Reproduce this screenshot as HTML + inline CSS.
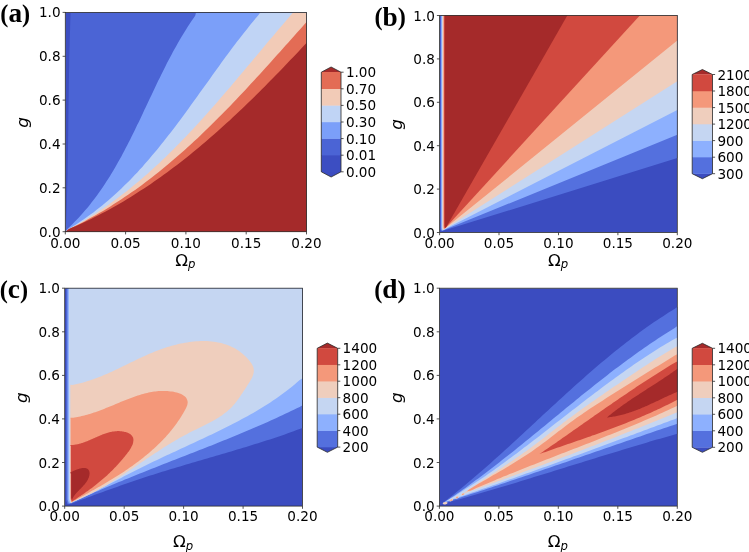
<!DOCTYPE html>
<html lang="en"><head><meta charset="utf-8"><title>Contour panels</title>
<style>
html,body{margin:0;padding:0;background:#fff;}
body{width:749px;height:552px;overflow:hidden;}
svg{display:block;font-family:'DejaVu Sans','Liberation Sans',sans-serif;fill:#000;}
</style></head><body>
<svg width="749" height="552" viewBox="0 0 749 552">
<defs><clipPath id="cpa"><rect x="65.3" y="12.4" width="241.2" height="219.3"/></clipPath><clipPath id="cpb"><rect x="439.6" y="15.5" width="237.7" height="217.0"/></clipPath><clipPath id="cpc"><rect x="64.7" y="288.2" width="237.8" height="217.9"/></clipPath><clipPath id="cpd"><rect x="439.4" y="288.2" width="237.9" height="217.9"/></clipPath></defs>
<rect x="0" y="0" width="749" height="552" fill="#ffffff"/>
<g clip-path="url(#cpa)">
<rect x="65.3" y="12.4" width="241.2" height="219.3" fill="#3c4ec2"/>
<polygon points="65.5,231.7 65.8,228.9 65.9,226.2 66.1,223.4 66.2,220.6 66.3,217.8 66.4,215.1 66.5,212.3 66.6,209.5 66.7,206.7 66.8,204.0 66.9,201.2 66.9,198.4 67.0,195.6 67.1,192.9 67.2,190.1 67.2,187.3 67.3,184.5 67.4,181.8 67.4,179.0 67.5,176.2 67.6,173.4 67.6,170.7 67.7,167.9 67.7,165.1 67.8,162.3 67.8,159.6 67.9,156.8 67.9,154.0 67.9,151.2 68.0,148.4 68.0,145.7 68.1,142.9 68.1,140.1 68.1,137.3 68.2,134.6 68.2,131.8 68.3,129.0 68.3,126.2 68.3,123.5 68.4,120.7 68.4,117.9 68.4,115.1 68.5,112.3 68.5,109.6 68.5,106.8 68.6,104.0 68.6,101.2 68.6,98.5 68.7,95.7 68.7,92.9 68.8,90.1 68.8,87.4 68.8,84.6 68.9,81.8 68.9,79.0 69.0,76.2 69.0,73.5 69.1,70.7 69.1,67.9 69.2,65.1 69.2,62.4 69.3,59.6 69.3,56.8 69.4,54.0 69.5,51.3 69.5,48.5 69.6,45.7 69.7,42.9 69.7,40.2 69.8,37.4 69.9,34.6 70.0,31.8 70.1,29.1 70.1,26.3 70.2,23.5 70.3,20.7 70.4,18.0 70.5,15.2 70.6,12.4 308.5,10.4 308.5,233.7 65.5,233.7" fill="#4b64d5"/>
<polygon points="65.5,231.7 67.3,229.0 69.7,226.7 72.1,224.4 74.4,222.1 76.7,219.8 78.9,217.4 81.1,215.0 83.3,212.6 85.4,210.1 87.5,207.7 89.5,205.2 91.5,202.6 93.5,200.1 95.4,197.5 97.3,194.9 99.2,192.3 101.0,189.7 102.9,187.0 104.7,184.3 106.4,181.6 108.1,178.9 109.9,176.2 111.5,173.5 113.2,170.7 114.8,167.9 116.5,165.1 118.0,162.3 119.6,159.5 121.2,156.7 122.7,153.8 124.2,151.0 125.7,148.1 127.2,145.2 128.7,142.3 130.2,139.4 131.6,136.5 133.1,133.6 134.5,130.7 135.9,127.8 137.3,124.8 138.8,121.9 140.2,119.0 141.6,116.0 143.0,113.1 144.3,110.1 145.7,107.2 147.1,104.2 148.5,101.3 149.9,98.3 151.3,95.4 152.7,92.4 154.1,89.5 155.5,86.5 156.9,83.6 158.3,80.6 159.8,77.7 161.2,74.8 162.6,71.9 164.1,68.9 165.6,66.0 167.0,63.1 168.5,60.2 170.0,57.4 171.6,54.5 173.1,51.6 174.7,48.8 176.3,45.9 177.9,43.1 179.5,40.3 181.1,37.5 182.8,34.7 184.5,32.0 186.2,29.2 187.9,26.5 189.7,23.8 191.5,21.1 193.3,18.4 195.2,15.7 196.0,12.4 308.5,10.4 308.5,233.7 65.5,233.7" fill="#7b9ff9"/>
<polygon points="65.5,231.7 68.2,229.2 71.5,227.3 74.7,225.3 77.9,223.2 81.1,221.1 84.2,219.0 87.3,216.8 90.4,214.6 93.4,212.4 96.3,210.1 99.3,207.8 102.2,205.5 105.1,203.1 107.9,200.7 110.7,198.3 113.5,195.8 116.3,193.3 119.0,190.8 121.7,188.2 124.3,185.6 127.0,183.0 129.6,180.4 132.2,177.7 134.7,175.1 137.3,172.4 139.8,169.6 142.3,166.9 144.7,164.1 147.2,161.3 149.6,158.5 152.0,155.6 154.4,152.8 156.8,149.9 159.2,147.0 161.5,144.1 163.8,141.2 166.1,138.3 168.4,135.3 170.7,132.4 173.0,129.4 175.3,126.4 177.5,123.4 179.8,120.4 182.0,117.4 184.2,114.4 186.4,111.4 188.6,108.4 190.8,105.3 193.0,102.3 195.2,99.2 197.4,96.2 199.6,93.1 201.8,90.1 204.0,87.0 206.2,84.0 208.4,80.9 210.5,77.9 212.7,74.8 214.9,71.8 217.1,68.7 219.3,65.7 221.5,62.6 223.7,59.6 225.9,56.6 228.2,53.6 230.4,50.6 232.6,47.6 234.9,44.6 237.1,41.6 239.4,38.7 241.7,35.7 244.0,32.8 246.3,29.9 248.6,27.0 250.9,24.1 253.3,21.2 255.7,18.3 258.1,15.5 260.3,12.4 308.5,10.4 308.5,233.7 65.5,233.7" fill="#c0d4f5"/>
<polygon points="65.5,231.7 68.6,229.3 72.2,227.3 75.8,225.4 79.4,223.3 82.9,221.3 86.4,219.2 89.8,217.1 93.3,214.9 96.7,212.8 100.0,210.5 103.4,208.3 106.7,206.0 110.0,203.7 113.2,201.3 116.5,199.0 119.7,196.6 122.9,194.1 126.0,191.7 129.2,189.2 132.3,186.6 135.4,184.1 138.5,181.5 141.5,178.9 144.5,176.3 147.6,173.7 150.5,171.0 153.5,168.3 156.5,165.6 159.4,162.9 162.3,160.1 165.2,157.4 168.1,154.6 170.9,151.8 173.8,148.9 176.6,146.1 179.4,143.2 182.2,140.3 185.0,137.4 187.8,134.5 190.6,131.6 193.3,128.7 196.0,125.7 198.8,122.7 201.5,119.7 204.2,116.8 206.9,113.8 209.5,110.7 212.2,107.7 214.9,104.7 217.5,101.7 220.2,98.6 222.8,95.6 225.4,92.5 228.1,89.4 230.7,86.4 233.3,83.3 235.9,80.2 238.5,77.1 241.1,74.0 243.7,70.9 246.3,67.8 248.9,64.7 251.5,61.7 254.1,58.6 256.7,55.5 259.3,52.4 261.9,49.3 264.4,46.2 267.0,43.1 269.6,40.0 272.2,37.0 274.8,33.9 277.4,30.8 280.0,27.8 282.6,24.7 285.2,21.7 287.9,18.6 290.5,15.6 293.0,12.4 308.5,10.4 308.5,233.7 65.5,233.7" fill="#f2cbb7"/>
<polygon points="65.5,231.7 68.8,229.1 72.7,227.2 76.6,225.3 80.4,223.4 84.3,221.4 88.1,219.3 91.8,217.3 95.6,215.2 99.3,213.0 103.0,210.9 106.7,208.7 110.3,206.4 113.9,204.1 117.5,201.8 121.1,199.5 124.6,197.1 128.1,194.7 131.6,192.3 135.1,189.9 138.6,187.4 142.0,184.9 145.4,182.3 148.8,179.8 152.1,177.2 155.5,174.5 158.8,171.9 162.1,169.2 165.4,166.5 168.7,163.8 171.9,161.1 175.1,158.3 178.3,155.5 181.5,152.7 184.7,149.9 187.9,147.0 191.0,144.2 194.1,141.3 197.3,138.4 200.4,135.5 203.4,132.5 206.5,129.6 209.6,126.6 212.6,123.6 215.6,120.6 218.6,117.6 221.7,114.6 224.6,111.5 227.6,108.5 230.6,105.4 233.6,102.3 236.5,99.2 239.5,96.1 242.4,93.0 245.3,89.9 248.2,86.8 251.1,83.6 254.0,80.5 256.9,77.3 259.8,74.2 262.7,71.0 265.6,67.8 268.4,64.7 271.3,61.5 274.1,58.3 277.0,55.1 279.9,51.9 282.7,48.8 285.5,45.6 288.4,42.4 291.2,39.2 294.1,36.0 296.9,32.8 299.7,29.7 302.6,26.5 305.4,23.3 308.2,20.1 311.1,17.0 313.9,13.8 317.0,10.8 308.5,10.8 308.5,233.7 65.5,233.7" fill="#e36c55"/>
<polygon points="65.5,231.7 68.6,229.3 72.4,227.6 76.2,226.0 80.0,224.2 83.7,222.5 87.4,220.7 91.1,218.9 94.8,217.1 98.4,215.2 102.1,213.3 105.7,211.4 109.3,209.5 112.8,207.5 116.4,205.5 119.9,203.4 123.4,201.4 126.9,199.3 130.3,197.2 133.8,195.0 137.2,192.8 140.6,190.6 144.0,188.4 147.4,186.2 150.8,183.9 154.1,181.6 157.4,179.3 160.7,176.9 164.0,174.6 167.3,172.2 170.5,169.8 173.8,167.3 177.0,164.9 180.2,162.4 183.4,159.9 186.6,157.4 189.7,154.9 192.9,152.3 196.0,149.7 199.1,147.2 202.2,144.5 205.3,141.9 208.4,139.3 211.5,136.6 214.5,133.9 217.6,131.3 220.6,128.6 223.6,125.8 226.6,123.1 229.6,120.4 232.6,117.6 235.6,114.8 238.5,112.0 241.5,109.2 244.4,106.4 247.4,103.6 250.3,100.8 253.2,97.9 256.1,95.1 259.0,92.2 261.9,89.3 264.8,86.4 267.6,83.5 270.5,80.6 273.3,77.7 276.2,74.8 279.0,71.9 281.9,69.0 284.7,66.0 287.5,63.1 290.3,60.1 293.1,57.2 296.0,54.2 298.8,51.3 301.5,48.3 304.3,45.3 307.1,42.4 309.9,39.4 312.7,36.4 316.0,34.0 308.5,34.0 308.5,233.7 65.5,233.7" fill="#a52a2a"/>
</g>
<g clip-path="url(#cpb)">
<rect x="439.6" y="15.5" width="237.7" height="217.0" fill="#3b4cc0"/>
<polygon points="440.5,13.5 440.5,228.3 440.7,230.3 441.4,231.3 677.3,158.1 679.3,158.1 679.3,13.5" fill="#5470de"/>
<polygon points="441.2,13.5 441.2,227.8 441.4,229.8 442.1,230.8 677.3,134.8 679.3,134.8 679.3,13.5" fill="#8db0fe"/>
<polygon points="441.9,13.5 441.9,227.2 442.1,229.2 442.8,230.2 677.3,110.0 679.3,110.0 679.3,13.5" fill="#c5d6f2"/>
<polygon points="442.6,13.5 442.6,226.7 442.8,228.7 443.5,229.7 677.3,81.2 679.3,81.2 679.3,13.5" fill="#efcebd"/>
<polygon points="443.3,13.5 443.3,226.1 443.5,228.1 444.2,229.1 677.3,40.6 679.3,40.6 679.3,13.5" fill="#f4987a"/>
<polygon points="444.0,13.5 444.0,225.6 444.2,227.6 444.9,228.6 639.8,15.5 639.8,13.5" fill="#d1493f"/>
<polygon points="444.8,13.5 444.8,225.0 445.0,227.0 445.7,228.0 567.3,15.5 567.3,13.5" fill="#a52a2a"/>
</g>
<g clip-path="url(#cpc)">
<rect x="64.7" y="288.2" width="237.8" height="217.9" fill="#3b4cc0"/>
<polygon points="66.3,286.2 66.3,500.3 67.5,504.3 70.6,503.9 73.6,502.8 76.5,501.7 79.4,500.6 82.3,499.5 85.3,498.4 88.2,497.3 91.1,496.2 94.1,495.1 97.0,494.1 99.9,493.0 102.9,491.9 105.8,490.8 108.8,489.8 111.7,488.7 114.6,487.7 117.6,486.7 120.6,485.6 123.5,484.6 126.5,483.6 129.4,482.6 132.4,481.5 135.3,480.5 138.3,479.5 141.3,478.6 144.2,477.6 147.2,476.6 150.2,475.6 153.2,474.7 156.1,473.7 159.1,472.8 162.1,471.8 165.1,470.9 168.1,470.0 171.1,469.1 174.1,468.2 177.1,467.3 180.1,466.4 183.1,465.5 186.1,464.6 189.1,463.7 192.1,462.8 195.1,461.9 198.1,461.1 201.1,460.2 204.1,459.3 207.1,458.4 210.1,457.6 213.1,456.7 216.1,455.8 219.1,454.9 222.1,454.0 225.1,453.2 228.1,452.3 231.1,451.4 234.1,450.5 237.1,449.6 240.1,448.7 243.1,447.8 246.1,446.9 249.1,446.0 252.1,445.1 255.1,444.1 258.1,443.2 261.0,442.3 264.0,441.3 267.0,440.3 270.0,439.4 273.0,438.4 275.9,437.4 278.9,436.4 281.9,435.4 284.8,434.4 287.8,433.3 290.7,432.3 293.7,431.2 296.6,430.1 299.6,429.0 302.5,427.9 304.5,427.9 304.5,286.2" fill="#5470de"/>
<polygon points="67.6,286.2 67.6,499.6 68.8,503.6 71.9,502.7 74.8,501.4 77.7,500.0 80.7,498.7 83.6,497.4 86.5,496.0 89.4,494.7 92.4,493.4 95.3,492.1 98.3,490.9 101.2,489.6 104.2,488.3 107.1,487.0 110.1,485.8 113.0,484.6 116.0,483.3 118.9,482.1 121.9,480.9 124.9,479.6 127.9,478.4 130.8,477.2 133.8,476.0 136.8,474.8 139.8,473.6 142.7,472.4 145.7,471.2 148.7,470.0 151.7,468.8 154.7,467.7 157.7,466.5 160.7,465.3 163.7,464.1 166.6,463.0 169.6,461.8 172.6,460.6 175.6,459.5 178.6,458.3 181.6,457.1 184.6,455.9 187.6,454.8 190.6,453.6 193.6,452.4 196.6,451.3 199.5,450.1 202.5,448.9 205.5,447.7 208.5,446.5 211.5,445.4 214.5,444.2 217.4,443.0 220.4,441.8 223.4,440.6 226.4,439.4 229.3,438.2 232.3,436.9 235.3,435.7 238.3,434.5 241.2,433.3 244.2,432.0 247.1,430.8 250.1,429.5 253.0,428.3 256.0,427.0 258.9,425.7 261.9,424.4 264.8,423.2 267.7,421.9 270.7,420.5 273.6,419.2 276.5,417.9 279.4,416.6 282.3,415.2 285.2,413.8 288.1,412.5 291.0,411.1 293.9,409.7 296.8,408.3 299.7,406.9 302.5,405.3 304.5,405.3 304.5,286.2" fill="#8db0fe"/>
<polygon points="68.9,286.2 68.9,498.9 70.1,502.9 73.2,501.7 76.3,500.4 79.4,499.0 82.4,497.6 85.5,496.2 88.5,494.8 91.5,493.3 94.5,491.8 97.5,490.3 100.5,488.8 103.4,487.3 106.4,485.7 109.4,484.1 112.3,482.6 115.3,481.0 118.2,479.5 121.2,477.9 124.1,476.3 127.1,474.8 130.1,473.2 133.1,471.7 136.0,470.2 139.0,468.7 142.0,467.2 145.0,465.7 148.0,464.3 151.0,462.8 154.1,461.3 157.1,459.9 160.1,458.5 163.1,457.0 166.2,455.6 169.2,454.2 172.2,452.8 175.3,451.4 178.3,450.0 181.3,448.6 184.4,447.2 187.4,445.7 190.5,444.3 193.5,442.9 196.5,441.5 199.6,440.1 202.6,438.7 205.6,437.2 208.6,435.8 211.7,434.4 214.7,432.9 217.7,431.5 220.7,430.0 223.7,428.5 226.7,427.0 229.7,425.5 232.6,424.0 235.6,422.5 238.6,420.9 241.5,419.3 244.4,417.8 247.4,416.2 250.3,414.5 253.2,412.9 256.1,411.2 258.9,409.5 261.8,407.8 264.6,406.0 267.5,404.2 270.3,402.4 273.0,400.6 275.8,398.7 278.6,396.8 281.3,394.8 284.0,392.8 286.7,390.8 289.3,388.8 291.9,386.7 294.6,384.5 297.1,382.3 299.7,380.1 302.5,378.3 304.5,378.3 304.5,286.2" fill="#c5d6f2"/>
<polygon points="70.3,385.8 70.3,500.2 71.2,503.2 72.8,501.8 74.9,501.0 76.9,500.2 78.9,499.3 80.9,498.4 82.9,497.5 84.9,496.6 86.9,495.6 88.9,494.7 90.8,493.7 92.8,492.7 94.7,491.7 96.6,490.7 98.5,489.6 100.4,488.6 102.3,487.5 104.2,486.4 106.1,485.3 107.9,484.2 109.8,483.1 111.7,481.9 113.5,480.8 115.3,479.6 117.2,478.5 119.0,477.3 120.9,476.1 122.7,474.9 124.5,473.7 126.3,472.5 128.1,471.3 129.9,470.1 131.8,468.9 133.6,467.7 135.4,466.5 137.2,465.2 139.0,464.0 140.8,462.8 142.6,461.6 144.4,460.4 146.2,459.1 148.0,457.9 149.8,456.7 151.7,455.5 153.5,454.3 155.3,453.1 157.1,451.9 159.0,450.7 160.8,449.5 162.6,448.3 164.5,447.1 166.3,446.0 168.2,444.8 170.0,443.7 171.9,442.5 173.8,441.4 175.7,440.3 177.6,439.2 179.5,438.1 181.4,437.0 183.3,435.9 185.2,434.9 187.2,433.9 189.1,432.8 191.1,431.8 193.1,430.8 195.1,429.9 197.0,428.9 199.0,427.9 201.0,427.0 203.0,426.0 205.0,425.0 206.9,424.0 208.9,423.0 210.8,422.0 212.7,421.0 214.6,419.9 216.5,418.8 218.3,417.7 220.1,416.5 221.9,415.4 223.6,414.1 225.3,412.8 227.0,411.5 228.6,410.1 230.1,408.7 231.7,407.2 233.1,405.6 234.5,404.0 235.9,402.3 237.2,400.6 238.5,398.8 239.8,397.0 241.0,395.1 242.3,393.2 243.5,391.3 244.8,389.4 246.1,387.4 247.3,385.4 248.6,383.4 249.9,381.5 251.0,379.5 252.1,377.5 252.9,375.5 253.5,373.5 253.8,371.5 253.8,369.5 253.4,367.5 252.6,365.6 251.5,363.6 250.2,361.8 248.8,360.0 247.3,358.3 245.8,356.7 244.2,355.2 242.5,353.7 240.9,352.4 239.1,351.1 237.4,349.9 235.6,348.8 233.7,347.8 231.9,346.9 230.0,346.0 228.0,345.2 226.0,344.5 224.0,343.9 222.0,343.3 220.0,342.8 217.9,342.4 215.8,342.0 213.7,341.7 211.5,341.4 209.4,341.3 207.2,341.1 205.0,341.1 202.8,341.1 200.6,341.1 198.4,341.2 196.2,341.3 193.9,341.5 191.7,341.8 189.5,342.1 187.2,342.4 185.0,342.8 182.8,343.2 180.6,343.6 178.3,344.1 176.1,344.7 173.9,345.2 171.7,345.8 169.6,346.5 167.4,347.1 165.3,347.8 163.1,348.5 161.0,349.2 159.0,350.0 156.9,350.8 154.8,351.6 152.8,352.4 150.8,353.3 148.8,354.1 146.8,355.0 144.8,355.9 142.8,356.8 140.8,357.7 138.9,358.6 136.9,359.5 135.0,360.5 133.1,361.4 131.1,362.3 129.2,363.3 127.3,364.2 125.3,365.2 123.4,366.1 121.5,367.1 119.6,368.0 117.6,368.9 115.7,369.8 113.7,370.8 111.8,371.7 109.8,372.5 107.9,373.4 105.9,374.3 103.9,375.1 102.0,375.9 100.0,376.8 97.9,377.5 95.9,378.3 93.9,379.1 91.8,379.8 89.7,380.5 87.7,381.1 85.5,381.8 83.4,382.4 81.3,382.9 79.1,383.5 76.9,384.0 74.7,384.4 72.4,384.9 70.4,384.8" fill="#efcebd"/>
<polygon points="70.6,418.8 70.6,499.3 71.5,502.3 72.8,501.5 74.0,500.8 75.2,500.2 76.4,499.5 77.7,498.8 78.9,498.2 80.1,497.5 81.3,496.8 82.6,496.1 83.8,495.5 85.0,494.8 86.3,494.1 87.5,493.4 88.7,492.7 90.0,492.0 91.2,491.3 92.4,490.6 93.7,489.9 94.9,489.2 96.1,488.5 97.4,487.8 98.6,487.1 99.9,486.4 101.1,485.7 102.3,485.0 103.6,484.3 104.8,483.5 106.0,482.8 107.3,482.1 108.5,481.3 109.7,480.6 110.9,479.8 112.2,479.1 113.4,478.3 114.6,477.6 115.8,476.8 117.1,476.1 118.3,475.3 119.5,474.5 120.7,473.7 121.9,472.9 123.1,472.2 124.3,471.4 125.5,470.6 126.7,469.8 127.9,468.9 129.1,468.1 130.2,467.3 131.4,466.5 132.6,465.7 133.7,464.8 134.9,464.0 136.1,463.1 137.2,462.3 138.4,461.4 139.5,460.5 140.6,459.7 141.8,458.8 142.9,457.9 144.0,457.0 145.1,456.1 146.2,455.2 147.3,454.3 148.4,453.4 149.5,452.5 150.6,451.5 151.7,450.6 152.7,449.6 153.8,448.7 154.8,447.7 155.9,446.8 156.9,445.8 157.9,444.8 159.0,443.8 160.0,442.8 161.0,441.8 162.0,440.8 163.0,439.8 163.9,438.7 164.9,437.7 165.9,436.7 166.8,435.6 167.8,434.5 168.7,433.5 169.6,432.4 170.5,431.3 171.4,430.2 172.3,429.1 173.2,428.0 174.1,426.8 174.9,425.7 175.8,424.6 176.6,423.4 177.4,422.2 178.2,421.1 179.0,419.9 179.8,418.7 180.6,417.5 181.4,416.3 182.1,415.1 182.9,413.8 183.6,412.6 184.3,411.3 185.0,410.1 185.7,408.8 186.3,407.5 186.8,406.3 187.3,405.0 187.5,403.8 187.7,402.6 187.6,401.4 187.3,400.3 186.9,399.2 186.3,398.1 185.5,397.1 184.6,396.2 183.5,395.4 182.4,394.7 181.1,394.0 179.7,393.4 178.3,392.9 176.7,392.5 175.2,392.2 173.6,391.8 172.1,391.6 170.5,391.4 168.9,391.2 167.4,391.1 165.9,391.0 164.4,391.0 162.9,390.9 161.4,391.0 159.9,391.0 158.5,391.1 157.0,391.2 155.6,391.4 154.2,391.6 152.8,391.8 151.4,392.0 150.0,392.3 148.6,392.6 147.2,392.9 145.8,393.2 144.5,393.6 143.1,393.9 141.7,394.3 140.4,394.7 139.0,395.2 137.7,395.6 136.4,396.0 135.0,396.5 133.7,397.0 132.4,397.5 131.0,397.9 129.7,398.4 128.4,399.0 127.0,399.5 125.7,400.0 124.4,400.5 123.1,401.1 121.8,401.6 120.4,402.1 119.1,402.7 117.8,403.2 116.5,403.8 115.2,404.3 113.9,404.9 112.5,405.4 111.2,406.0 109.9,406.5 108.6,407.1 107.3,407.6 105.9,408.1 104.6,408.7 103.3,409.2 102.0,409.7 100.6,410.2 99.3,410.7 98.0,411.2 96.6,411.7 95.3,412.2 93.9,412.6 92.6,413.1 91.2,413.5 89.9,413.9 88.5,414.3 87.2,414.7 85.8,415.1 84.4,415.5 83.1,415.8 81.7,416.1 80.3,416.4 78.9,416.7 77.5,417.0 76.1,417.2 74.7,417.5 73.3,417.7 71.9,417.8 70.4,417.8" fill="#f4987a"/>
<polygon points="70.9,446.0 70.9,498.4 71.8,501.4 72.5,501.2 73.2,500.7 73.9,500.3 74.6,499.8 75.3,499.4 76.0,498.9 76.7,498.5 77.4,498.0 78.0,497.6 78.7,497.1 79.4,496.6 80.1,496.2 80.8,495.7 81.4,495.3 82.1,494.8 82.8,494.4 83.4,493.9 84.1,493.5 84.8,493.0 85.4,492.6 86.1,492.1 86.7,491.6 87.4,491.2 88.0,490.7 88.7,490.2 89.3,489.8 89.9,489.3 90.6,488.8 91.2,488.4 91.8,487.9 92.5,487.4 93.1,486.9 93.7,486.5 94.3,486.0 95.0,485.5 95.6,485.0 96.2,484.5 96.8,484.1 97.4,483.6 98.0,483.1 98.6,482.6 99.2,482.1 99.8,481.6 100.4,481.1 101.0,480.6 101.6,480.1 102.2,479.6 102.8,479.1 103.4,478.5 104.0,478.0 104.6,477.5 105.2,477.0 105.8,476.5 106.4,475.9 107.0,475.4 107.5,474.9 108.1,474.3 108.7,473.8 109.3,473.2 109.8,472.7 110.4,472.1 111.0,471.6 111.6,471.0 112.1,470.4 112.7,469.9 113.3,469.3 113.8,468.7 114.4,468.1 115.0,467.5 115.5,467.0 116.1,466.4 116.6,465.8 117.2,465.2 117.8,464.5 118.3,463.9 118.9,463.3 119.4,462.7 120.0,462.1 120.5,461.4 121.1,460.8 121.6,460.2 122.2,459.5 122.7,458.9 123.3,458.2 123.8,457.5 124.4,456.9 124.9,456.2 125.5,455.5 126.0,454.8 126.6,454.2 127.1,453.5 127.6,452.8 128.2,452.1 128.7,451.4 129.2,450.7 129.7,449.9 130.1,449.2 130.6,448.5 131.0,447.8 131.4,447.1 131.7,446.3 132.1,445.6 132.4,444.9 132.7,444.2 132.9,443.5 133.1,442.7 133.2,442.0 133.3,441.3 133.4,440.7 133.4,440.0 133.4,439.3 133.3,438.7 133.2,438.1 133.0,437.5 132.7,436.9 132.4,436.4 132.1,435.9 131.7,435.4 131.2,435.0 130.7,434.5 130.2,434.1 129.6,433.8 129.0,433.4 128.4,433.1 127.7,432.8 127.0,432.5 126.3,432.3 125.6,432.1 124.8,431.9 124.0,431.7 123.2,431.5 122.4,431.4 121.6,431.3 120.8,431.2 120.0,431.2 119.1,431.1 118.3,431.1 117.5,431.1 116.6,431.2 115.8,431.2 115.0,431.3 114.2,431.4 113.4,431.5 112.6,431.6 111.8,431.8 111.0,432.0 110.2,432.1 109.4,432.3 108.6,432.5 107.8,432.8 107.0,433.0 106.2,433.2 105.4,433.5 104.7,433.8 103.9,434.1 103.1,434.3 102.3,434.6 101.5,434.9 100.8,435.3 100.0,435.6 99.2,435.9 98.5,436.2 97.7,436.6 96.9,436.9 96.1,437.2 95.4,437.6 94.6,437.9 93.9,438.3 93.1,438.6 92.3,438.9 91.6,439.3 90.8,439.6 90.0,439.9 89.3,440.3 88.5,440.6 87.8,440.9 87.0,441.2 86.3,441.5 85.5,441.8 84.7,442.1 84.0,442.4 83.2,442.6 82.5,442.9 81.7,443.1 80.9,443.4 80.2,443.6 79.4,443.8 78.6,444.0 77.9,444.2 77.1,444.3 76.3,444.5 75.6,444.6 74.8,444.7 74.0,444.8 73.3,444.9 72.5,444.9 71.7,444.9 70.9,444.9 70.1,445.0" fill="#d1493f"/>
<polygon points="71.2,473.8 71.2,497.5 72.1,500.5 72.0,500.1 72.0,499.9 72.1,499.6 72.2,499.4 72.3,499.1 72.4,498.9 72.5,498.6 72.7,498.4 72.8,498.1 72.9,497.9 73.0,497.7 73.1,497.4 73.3,497.2 73.4,497.0 73.6,496.7 73.7,496.5 73.8,496.3 74.0,496.1 74.2,495.8 74.3,495.6 74.5,495.4 74.6,495.2 74.8,494.9 75.0,494.7 75.1,494.5 75.3,494.3 75.5,494.1 75.7,493.9 75.9,493.6 76.0,493.4 76.2,493.2 76.4,493.0 76.6,492.8 76.8,492.6 77.0,492.4 77.2,492.1 77.4,491.9 77.6,491.7 77.8,491.5 78.0,491.3 78.2,491.1 78.4,490.9 78.6,490.7 78.8,490.5 79.0,490.3 79.2,490.0 79.4,489.8 79.6,489.6 79.8,489.4 80.0,489.2 80.3,489.0 80.5,488.8 80.7,488.6 80.9,488.4 81.1,488.2 81.3,487.9 81.5,487.7 81.7,487.5 81.9,487.3 82.1,487.1 82.3,486.9 82.5,486.7 82.7,486.4 82.9,486.2 83.1,486.0 83.3,485.8 83.5,485.6 83.7,485.3 83.9,485.1 84.1,484.9 84.3,484.7 84.5,484.5 84.7,484.2 84.9,484.0 85.1,483.8 85.3,483.5 85.4,483.3 85.6,483.1 85.8,482.8 86.0,482.6 86.1,482.4 86.3,482.1 86.5,481.9 86.6,481.6 86.8,481.4 87.0,481.1 87.1,480.9 87.3,480.6 87.4,480.4 87.5,480.1 87.7,479.9 87.8,479.6 88.0,479.4 88.1,479.1 88.2,478.8 88.3,478.6 88.4,478.3 88.6,478.0 88.7,477.7 88.8,477.5 88.9,477.2 89.0,476.9 89.0,476.6 89.1,476.3 89.2,476.1 89.3,475.8 89.3,475.5 89.4,475.2 89.4,474.9 89.5,474.6 89.5,474.4 89.5,474.1 89.6,473.8 89.6,473.5 89.6,473.2 89.6,473.0 89.5,472.7 89.5,472.5 89.5,472.2 89.4,472.0 89.4,471.7 89.3,471.5 89.2,471.2 89.2,471.0 89.1,470.8 89.0,470.6 88.8,470.4 88.7,470.2 88.6,470.0 88.4,469.8 88.3,469.6 88.1,469.4 87.9,469.3 87.8,469.1 87.6,469.0 87.4,468.8 87.2,468.7 87.0,468.6 86.7,468.5 86.5,468.4 86.3,468.3 86.0,468.2 85.8,468.2 85.5,468.1 85.2,468.1 85.0,468.0 84.7,468.0 84.4,468.0 84.1,468.0 83.8,468.0 83.5,468.0 83.2,468.0 82.9,468.0 82.6,468.0 82.3,468.1 82.0,468.1 81.7,468.2 81.3,468.2 81.0,468.3 80.7,468.4 80.4,468.4 80.0,468.5 79.7,468.6 79.4,468.7 79.1,468.8 78.7,468.9 78.4,469.0 78.1,469.1 77.7,469.2 77.4,469.3 77.1,469.4 76.8,469.5 76.5,469.7 76.1,469.8 75.8,469.9 75.5,470.0 75.2,470.2 74.9,470.3 74.6,470.4 74.3,470.5 74.0,470.7 73.8,470.8 73.5,470.9 73.2,471.1 72.9,471.2 72.7,471.3 72.4,471.5 72.2,471.6 72.0,471.7 71.7,471.8 71.5,472.0 71.3,472.1 71.1,472.2 70.9,472.3 70.7,472.4 70.6,472.5 70.4,472.6 70.2,472.7 70.1,472.8" fill="#a52a2a"/>
</g>
<g clip-path="url(#cpd)">
<rect x="439.4" y="288.2" width="237.9" height="217.9" fill="#3b4cc0"/>
<polygon points="441.5,504.0 444.2,501.8 446.9,499.7 449.7,497.6 452.4,495.4 455.1,493.3 457.8,491.1 460.4,488.9 463.1,486.7 465.8,484.5 468.4,482.3 471.1,480.1 473.7,477.8 476.3,475.6 478.9,473.3 481.6,471.1 484.2,468.8 486.8,466.5 489.4,464.2 491.9,461.9 494.5,459.6 497.1,457.3 499.7,455.0 502.2,452.7 504.8,450.3 507.4,448.0 509.9,445.7 512.5,443.3 515.0,441.0 517.5,438.7 520.1,436.3 522.6,434.0 525.2,431.6 527.7,429.3 530.2,426.9 532.8,424.5 535.3,422.2 537.8,419.8 540.4,417.5 542.9,415.1 545.4,412.8 548.0,410.4 550.5,408.1 553.0,405.7 555.6,403.4 558.1,401.0 560.7,398.7 563.2,396.4 565.8,394.0 568.3,391.7 570.9,389.4 573.5,387.1 576.0,384.8 578.6,382.5 581.2,380.2 583.8,377.9 586.4,375.6 589.0,373.3 591.6,371.1 594.2,368.8 596.8,366.5 599.4,364.3 602.1,362.1 604.7,359.9 607.4,357.7 610.0,355.5 612.7,353.3 615.4,351.1 618.1,348.9 620.8,346.8 623.5,344.7 626.2,342.5 629.0,340.4 631.7,338.3 634.5,336.3 637.2,334.2 640.0,332.1 642.8,330.1 645.6,328.1 648.4,326.1 651.3,324.1 654.1,322.1 657.0,320.2 659.9,318.3 662.8,316.4 665.7,314.5 668.6,312.6 671.6,310.7 674.5,308.9 677.3,306.9 679.3,306.9 679.3,433.7 677.3,433.7 673.9,434.7 670.5,435.7 667.0,436.7 663.6,437.7 660.2,438.7 656.7,439.6 653.3,440.6 649.9,441.6 646.5,442.7 643.1,443.7 639.6,444.7 636.2,445.7 632.8,446.7 629.4,447.8 626.0,448.8 622.6,449.8 619.1,450.9 615.7,451.9 612.3,452.9 608.9,454.0 605.5,455.0 602.1,456.1 598.7,457.1 595.3,458.2 591.9,459.2 588.5,460.3 585.1,461.3 581.6,462.4 578.2,463.4 574.8,464.5 571.4,465.6 568.0,466.6 564.6,467.7 561.2,468.7 557.8,469.8 554.4,470.8 551.0,471.9 547.6,472.9 544.2,474.0 540.8,475.1 537.4,476.1 534.0,477.1 530.5,478.2 527.1,479.2 523.7,480.3 520.3,481.3 516.9,482.4 513.5,483.4 510.1,484.4 506.7,485.4 503.2,486.5 499.8,487.5 496.4,488.5 493.0,489.5 489.6,490.5 486.1,491.5 482.7,492.5 479.3,493.5 475.9,494.5 472.4,495.5 469.0,496.5 465.6,497.4 462.2,498.4 458.7,499.4 455.3,500.3 451.8,501.3 448.4,502.2 445.0,503.2 441.5,504.0" fill="#5470de"/>
<polygon points="443.5,502.8 446.3,501.0 449.0,499.2 451.7,497.3 454.5,495.4 457.2,493.6 459.9,491.7 462.6,489.8 465.3,487.9 467.9,486.0 470.6,484.0 473.3,482.1 475.9,480.1 478.6,478.2 481.2,476.2 483.9,474.2 486.5,472.2 489.1,470.2 491.7,468.2 494.3,466.2 496.9,464.2 499.5,462.2 502.1,460.1 504.7,458.1 507.3,456.1 509.9,454.0 512.5,452.0 515.0,449.9 517.6,447.8 520.2,445.8 522.7,443.7 525.3,441.6 527.9,439.5 530.4,437.4 533.0,435.3 535.5,433.3 538.1,431.2 540.6,429.1 543.2,427.0 545.7,424.9 548.3,422.8 550.8,420.7 553.4,418.6 555.9,416.5 558.5,414.4 561.0,412.3 563.6,410.2 566.1,408.1 568.7,406.0 571.2,403.9 573.8,401.9 576.3,399.8 578.9,397.7 581.4,395.6 584.0,393.6 586.6,391.5 589.2,389.4 591.7,387.4 594.3,385.3 596.9,383.3 599.5,381.2 602.1,379.2 604.7,377.2 607.3,375.2 609.9,373.1 612.5,371.1 615.1,369.1 617.7,367.2 620.4,365.2 623.0,363.2 625.7,361.3 628.3,359.3 631.0,357.4 633.6,355.4 636.3,353.5 639.0,351.6 641.7,349.7 644.4,347.8 647.1,345.9 649.8,344.1 652.5,342.2 655.3,340.4 658.0,338.6 660.8,336.8 663.5,335.0 666.3,333.2 669.1,331.4 671.9,329.7 674.7,327.9 677.3,325.9 679.3,325.9 679.3,423.7 677.3,423.7 673.9,424.9 670.5,426.0 667.1,427.2 663.8,428.3 660.4,429.5 657.0,430.6 653.6,431.8 650.2,433.0 646.8,434.1 643.5,435.3 640.1,436.4 636.7,437.6 633.3,438.8 629.9,439.9 626.5,441.1 623.2,442.3 619.8,443.4 616.4,444.6 613.0,445.8 609.6,447.0 606.3,448.1 602.9,449.3 599.5,450.5 596.1,451.6 592.7,452.8 589.4,454.0 586.0,455.1 582.6,456.3 579.2,457.5 575.8,458.6 572.4,459.8 569.1,461.0 565.7,462.2 562.3,463.3 558.9,464.5 555.5,465.6 552.2,466.8 548.8,468.0 545.4,469.1 542.0,470.3 538.6,471.4 535.2,472.6 531.8,473.8 528.5,474.9 525.1,476.1 521.7,477.2 518.3,478.3 514.9,479.5 511.5,480.6 508.1,481.8 504.7,482.9 501.3,484.0 498.0,485.2 494.6,486.3 491.2,487.4 487.8,488.6 484.4,489.7 481.0,490.8 477.6,491.9 474.2,493.0 470.8,494.1 467.4,495.2 464.0,496.3 460.6,497.4 457.2,498.5 453.7,499.6 450.3,500.7 446.9,501.8 443.5,502.8" fill="#8db0fe"/>
<polygon points="445.0,501.8 447.8,500.2 450.5,498.5 453.3,496.9 456.0,495.2 458.7,493.5 461.4,491.8 464.1,490.1 466.8,488.3 469.5,486.6 472.2,484.8 474.9,483.1 477.5,481.3 480.2,479.5 482.8,477.7 485.5,475.9 488.1,474.1 490.7,472.2 493.3,470.4 495.9,468.5 498.5,466.7 501.1,464.8 503.7,462.9 506.3,461.0 508.9,459.1 511.4,457.2 514.0,455.3 516.6,453.4 519.1,451.5 521.7,449.5 524.2,447.6 526.8,445.7 529.3,443.7 531.9,441.8 534.4,439.8 536.9,437.9 539.5,435.9 542.0,433.9 544.5,432.0 547.1,430.0 549.6,428.1 552.1,426.1 554.6,424.1 557.2,422.1 559.7,420.2 562.2,418.2 564.7,416.2 567.3,414.3 569.8,412.3 572.3,410.3 574.8,408.4 577.4,406.4 579.9,404.5 582.4,402.5 585.0,400.6 587.5,398.6 590.0,396.7 592.6,394.7 595.1,392.8 597.7,390.9 600.2,388.9 602.8,387.0 605.4,385.1 607.9,383.2 610.5,381.3 613.1,379.4 615.7,377.5 618.3,375.7 620.9,373.8 623.5,372.0 626.1,370.1 628.7,368.3 631.3,366.4 633.9,364.6 636.6,362.8 639.2,361.0 641.9,359.3 644.5,357.5 647.2,355.7 649.9,354.0 652.6,352.3 655.3,350.5 658.0,348.8 660.7,347.1 663.4,345.5 666.2,343.8 668.9,342.2 671.7,340.5 674.5,338.9 677.3,337.4 679.3,337.4 679.3,418.1 677.3,418.1 674.0,419.4 670.6,420.6 667.2,421.9 663.9,423.1 660.5,424.4 657.2,425.6 653.8,426.9 650.5,428.1 647.1,429.4 643.8,430.6 640.4,431.9 637.1,433.1 633.7,434.4 630.4,435.6 627.0,436.9 623.6,438.1 620.3,439.3 616.9,440.6 613.6,441.8 610.2,443.1 606.9,444.3 603.5,445.5 600.2,446.8 596.8,448.0 593.4,449.3 590.1,450.5 586.7,451.7 583.4,453.0 580.0,454.2 576.6,455.4 573.3,456.6 569.9,457.9 566.5,459.1 563.2,460.3 559.8,461.5 556.5,462.7 553.1,464.0 549.7,465.2 546.4,466.4 543.0,467.6 539.6,468.8 536.2,470.0 532.9,471.2 529.5,472.4 526.1,473.6 522.8,474.8 519.4,476.0 516.0,477.2 512.7,478.4 509.3,479.6 505.9,480.8 502.5,482.0 499.1,483.2 495.8,484.4 492.4,485.6 489.0,486.7 485.6,487.9 482.3,489.1 478.9,490.3 475.5,491.4 472.1,492.6 468.7,493.8 465.3,494.9 462.0,496.1 458.6,497.2 455.2,498.4 451.8,499.5 448.4,500.7 445.0,501.8" fill="#c5d6f2"/>
<polygon points="463.5,493.4 465.9,491.7 468.2,490.0 470.6,488.3 473.1,486.7 475.5,485.0 477.9,483.4 480.3,481.8 482.8,480.2 485.2,478.6 487.7,477.0 490.1,475.4 492.6,473.8 495.0,472.2 497.4,470.6 499.9,469.0 502.3,467.4 504.8,465.8 507.2,464.2 509.6,462.5 512.0,460.9 514.4,459.3 516.8,457.6 519.2,455.9 521.6,454.3 524.0,452.6 526.4,450.9 528.7,449.2 531.1,447.5 533.4,445.7 535.7,444.0 538.1,442.2 540.4,440.5 542.7,438.7 545.0,436.9 547.3,435.1 549.6,433.3 551.9,431.5 554.2,429.7 556.5,428.0 558.8,426.2 561.2,424.4 563.5,422.6 565.8,420.9 568.1,419.1 570.5,417.4 572.8,415.7 575.2,413.9 577.5,412.2 579.9,410.5 582.3,408.8 584.7,407.1 587.0,405.4 589.4,403.7 591.8,402.1 594.2,400.4 596.6,398.7 599.0,397.1 601.4,395.4 603.8,393.7 606.2,392.1 608.6,390.4 611.0,388.8 613.4,387.1 615.9,385.5 618.3,383.9 620.7,382.2 623.1,380.6 625.5,378.9 628.0,377.3 630.4,375.7 632.8,374.1 635.2,372.4 637.7,370.8 640.1,369.2 642.5,367.6 645.0,366.0 647.4,364.4 649.9,362.8 652.3,361.2 654.8,359.6 657.2,358.1 659.7,356.5 662.2,355.0 664.7,353.5 667.2,352.0 669.7,350.5 672.2,349.0 674.7,347.5 677.3,346.2 679.3,346.2 679.3,412.2 677.3,412.2 674.2,413.5 671.2,414.7 668.1,416.0 665.0,417.2 662.0,418.5 658.9,419.7 655.8,421.0 652.7,422.2 649.7,423.5 646.6,424.7 643.5,426.0 640.4,427.2 637.4,428.4 634.3,429.6 631.2,430.9 628.1,432.1 625.0,433.3 621.9,434.5 618.9,435.8 615.8,437.0 612.7,438.2 609.6,439.4 606.5,440.6 603.4,441.8 600.3,443.0 597.2,444.2 594.1,445.4 591.0,446.6 587.9,447.8 584.8,449.0 581.8,450.2 578.7,451.3 575.6,452.5 572.5,453.7 569.4,454.9 566.2,456.0 563.1,457.2 560.0,458.4 556.9,459.6 553.8,460.7 550.7,461.9 547.6,463.1 544.5,464.2 541.4,465.4 538.3,466.5 535.2,467.7 532.1,468.8 529.0,470.0 525.9,471.1 522.8,472.3 519.6,473.4 516.5,474.5 513.4,475.7 510.3,476.8 507.2,478.0 504.1,479.1 501.0,480.2 497.9,481.3 494.7,482.5 491.6,483.6 488.5,484.7 485.4,485.8 482.3,487.0 479.2,488.1 476.0,489.2 472.9,490.3 469.8,491.4 466.7,492.5 463.5,493.4" fill="#efcebd"/>
<polygon points="467.0,491.3 469.1,489.4 471.5,487.9 473.9,486.5 476.4,485.1 478.8,483.6 481.2,482.2 483.7,480.8 486.1,479.4 488.6,477.9 491.0,476.5 493.4,475.1 495.9,473.7 498.3,472.3 500.8,470.8 503.2,469.4 505.6,468.0 508.1,466.5 510.5,465.1 512.9,463.6 515.3,462.1 517.7,460.6 520.1,459.1 522.4,457.6 524.8,456.1 527.2,454.5 529.5,453.0 531.8,451.4 534.1,449.8 536.4,448.1 538.7,446.5 541.0,444.8 543.3,443.1 545.5,441.4 547.8,439.7 550.0,438.0 552.2,436.3 554.5,434.6 556.7,432.8 558.9,431.1 561.2,429.4 563.4,427.7 565.6,425.9 567.9,424.3 570.2,422.6 572.4,420.9 574.7,419.3 577.0,417.6 579.3,416.0 581.7,414.4 584.0,412.8 586.3,411.2 588.7,409.6 591.0,408.1 593.4,406.5 595.7,405.0 598.1,403.4 600.5,401.9 602.9,400.4 605.3,398.8 607.6,397.3 610.0,395.8 612.4,394.3 614.8,392.8 617.2,391.3 619.6,389.8 622.0,388.3 624.4,386.8 626.8,385.2 629.2,383.7 631.6,382.3 634.0,380.8 636.4,379.3 638.8,377.8 641.2,376.3 643.6,374.8 646.0,373.3 648.4,371.8 650.8,370.3 653.2,368.8 655.6,367.3 658.0,365.9 660.4,364.4 662.8,362.9 665.2,361.4 667.6,359.9 670.0,358.4 672.4,357.0 674.8,355.5 677.3,354.2 679.3,354.2 679.3,405.8 677.3,405.8 674.3,407.2 671.3,408.6 668.3,410.0 665.4,411.3 662.3,412.7 659.3,414.0 656.3,415.4 653.3,416.7 650.3,418.0 647.3,419.3 644.3,420.6 641.2,421.9 638.2,423.2 635.2,424.4 632.1,425.7 629.1,427.0 626.0,428.2 623.0,429.5 619.9,430.7 616.9,431.9 613.8,433.2 610.8,434.4 607.7,435.6 604.7,436.8 601.6,438.1 598.5,439.3 595.5,440.5 592.4,441.7 589.3,442.9 586.3,444.1 583.2,445.3 580.1,446.5 577.1,447.7 574.0,448.8 570.9,450.0 567.8,451.2 564.8,452.4 561.7,453.6 558.6,454.8 555.6,456.0 552.5,457.2 549.4,458.4 546.3,459.6 543.3,460.8 540.2,462.0 537.1,463.2 534.1,464.4 531.0,465.6 528.0,466.8 524.9,468.0 521.8,469.2 518.8,470.4 515.7,471.7 512.7,472.9 509.6,474.1 506.6,475.4 503.5,476.6 500.5,477.9 497.5,479.1 494.4,480.4 491.4,481.7 488.4,482.9 485.4,484.2 482.3,485.5 479.3,486.8 476.3,488.1 473.3,489.4 470.3,490.7 467.0,491.3" fill="#f4987a"/>
<polygon points="539.5,454.0 541.0,452.9 542.6,451.9 544.1,450.8 545.6,449.8 547.2,448.7 548.7,447.7 550.3,446.6 551.8,445.5 553.3,444.5 554.9,443.4 556.4,442.4 557.9,441.3 559.5,440.2 561.0,439.2 562.5,438.1 564.1,437.0 565.6,436.0 567.1,434.9 568.7,433.8 570.2,432.8 571.7,431.7 573.2,430.6 574.8,429.5 576.3,428.5 577.8,427.4 579.4,426.3 580.9,425.3 582.4,424.2 583.9,423.1 585.5,422.0 587.0,421.0 588.5,419.9 590.1,418.8 591.6,417.8 593.1,416.7 594.6,415.6 596.2,414.5 597.7,413.5 599.2,412.4 600.8,411.3 602.3,410.3 603.8,409.2 605.4,408.1 606.9,407.1 608.4,406.0 610.0,405.0 611.5,403.9 613.0,402.8 614.6,401.8 616.1,400.7 617.7,399.7 619.2,398.6 620.7,397.6 622.3,396.5 623.8,395.5 625.4,394.4 626.9,393.4 628.5,392.3 630.0,391.3 631.6,390.2 633.1,389.2 634.7,388.2 636.2,387.1 637.8,386.1 639.3,385.1 640.9,384.1 642.4,383.0 644.0,382.0 645.6,381.0 647.1,380.0 648.7,379.0 650.3,378.0 651.8,376.9 653.4,375.9 655.0,374.9 656.6,373.9 658.1,372.9 659.7,372.0 661.3,371.0 662.9,370.0 664.5,369.0 666.0,368.0 667.6,367.0 669.2,366.1 670.8,365.1 672.4,364.1 674.0,363.2 675.6,362.2 677.3,361.4 679.3,361.4 679.3,399.8 677.3,399.8 675.4,400.8 673.5,401.8 671.6,402.8 669.6,403.7 667.7,404.7 665.8,405.6 663.8,406.6 661.9,407.5 660.0,408.4 658.0,409.3 656.1,410.3 654.1,411.1 652.2,412.0 650.2,412.9 648.2,413.8 646.3,414.6 644.3,415.5 642.3,416.3 640.3,417.2 638.4,418.0 636.4,418.8 634.4,419.7 632.4,420.5 630.4,421.3 628.4,422.1 626.4,422.9 624.4,423.7 622.4,424.5 620.4,425.2 618.4,426.0 616.4,426.8 614.4,427.5 612.4,428.3 610.4,429.0 608.4,429.8 606.4,430.5 604.4,431.3 602.4,432.0 600.3,432.7 598.3,433.5 596.3,434.2 594.3,434.9 592.2,435.6 590.2,436.4 588.2,437.1 586.2,437.8 584.1,438.5 582.1,439.2 580.1,439.9 578.1,440.6 576.0,441.3 574.0,442.0 572.0,442.7 569.9,443.4 567.9,444.1 565.9,444.8 563.8,445.5 561.8,446.2 559.8,446.9 557.8,447.6 555.7,448.3 553.7,449.0 551.7,449.8 549.6,450.5 547.6,451.2 545.6,451.9 543.6,452.6 541.5,453.3 539.5,454.0" fill="#d1493f"/>
<polygon points="606.9,417.5 607.6,416.9 608.4,416.3 609.1,415.6 609.9,415.0 610.6,414.4 611.4,413.8 612.1,413.2 612.9,412.6 613.6,412.0 614.4,411.4 615.2,410.8 615.9,410.3 616.7,409.7 617.5,409.1 618.2,408.5 619.0,408.0 619.8,407.4 620.6,406.8 621.3,406.3 622.1,405.7 622.9,405.1 623.7,404.6 624.5,404.0 625.3,403.5 626.1,402.9 626.8,402.4 627.6,401.8 628.4,401.3 629.2,400.7 630.0,400.2 630.8,399.7 631.6,399.1 632.4,398.6 633.2,398.1 634.0,397.5 634.8,397.0 635.6,396.5 636.4,395.9 637.2,395.4 638.0,394.9 638.8,394.4 639.7,393.8 640.5,393.3 641.3,392.8 642.1,392.3 642.9,391.7 643.7,391.2 644.5,390.7 645.3,390.2 646.1,389.7 646.9,389.1 647.7,388.6 648.5,388.1 649.4,387.6 650.2,387.1 651.0,386.5 651.8,386.0 652.6,385.5 653.4,385.0 654.2,384.5 655.0,383.9 655.8,383.4 656.6,382.9 657.4,382.4 658.3,381.8 659.1,381.3 659.9,380.8 660.7,380.3 661.5,379.7 662.3,379.2 663.1,378.7 663.9,378.1 664.7,377.6 665.5,377.1 666.3,376.5 667.1,376.0 667.9,375.5 668.7,374.9 669.5,374.4 670.2,373.8 671.0,373.3 671.8,372.7 672.6,372.2 673.4,371.6 674.2,371.1 675.0,370.5 675.7,369.9 676.5,369.4 677.3,368.8 679.3,368.8 679.3,391.8 677.3,391.8 676.3,392.2 675.3,392.7 674.3,393.1 673.3,393.5 672.3,394.0 671.3,394.4 670.3,394.9 669.3,395.3 668.3,395.8 667.3,396.2 666.4,396.7 665.4,397.1 664.4,397.6 663.4,398.1 662.4,398.5 661.4,399.0 660.4,399.5 659.4,399.9 658.5,400.4 657.5,400.9 656.5,401.3 655.5,401.8 654.5,402.2 653.5,402.7 652.5,403.2 651.5,403.6 650.5,404.1 649.6,404.5 648.6,405.0 647.6,405.4 646.6,405.9 645.6,406.3 644.6,406.7 643.6,407.2 642.6,407.6 641.6,408.0 640.6,408.4 639.6,408.9 638.6,409.3 637.5,409.7 636.5,410.1 635.5,410.4 634.5,410.8 633.5,411.2 632.5,411.6 631.4,411.9 630.4,412.3 629.4,412.6 628.3,413.0 627.3,413.3 626.3,413.6 625.2,413.9 624.2,414.2 623.1,414.5 622.1,414.8 621.0,415.1 620.0,415.3 618.9,415.6 617.8,415.8 616.7,416.0 615.7,416.2 614.6,416.4 613.5,416.6 612.4,416.8 611.3,417.0 610.2,417.1 609.1,417.3 608.0,417.4 606.9,417.5" fill="#a52a2a"/>
<ellipse cx="445.2" cy="503.2" rx="2.4" ry="1.2" fill="#efcebd" transform="rotate(-8 445.2 503.2)"/>
<ellipse cx="451.3" cy="500.2" rx="2.0" ry="1.0" fill="#efcebd" transform="rotate(-28 451.3 500.2)"/>
<ellipse cx="451.3" cy="500.2" rx="1.0" ry="0.6" fill="#f4987a" transform="rotate(-28 451.3 500.2)"/>
<ellipse cx="457.1" cy="497.4" rx="2.0" ry="1.0" fill="#efcebd" transform="rotate(-28 457.1 497.4)"/>
<ellipse cx="457.1" cy="497.4" rx="1.0" ry="0.6" fill="#f4987a" transform="rotate(-28 457.1 497.4)"/>
<ellipse cx="463.0" cy="494.2" rx="2.0" ry="1.0" fill="#efcebd" transform="rotate(-28 463.0 494.2)"/>
<ellipse cx="463.0" cy="494.2" rx="1.0" ry="0.6" fill="#f4987a" transform="rotate(-28 463.0 494.2)"/>
</g>
<g style="will-change:transform">
<rect x="65.3" y="12.4" width="241.2" height="219.3" fill="none" stroke="#2a2a2a" stroke-width="0.8"/>
<line x1="65.3" y1="231.7" x2="65.3" y2="234.4" stroke="#2a2a2a" stroke-width="0.8"/>
<text x="65.3" y="247.7" text-anchor="middle" font-size="13.6">0.00</text>
<line x1="125.6" y1="231.7" x2="125.6" y2="234.4" stroke="#2a2a2a" stroke-width="0.8"/>
<text x="125.6" y="247.7" text-anchor="middle" font-size="13.6">0.05</text>
<line x1="185.9" y1="231.7" x2="185.9" y2="234.4" stroke="#2a2a2a" stroke-width="0.8"/>
<text x="185.9" y="247.7" text-anchor="middle" font-size="13.6">0.10</text>
<line x1="246.2" y1="231.7" x2="246.2" y2="234.4" stroke="#2a2a2a" stroke-width="0.8"/>
<text x="246.2" y="247.7" text-anchor="middle" font-size="13.6">0.15</text>
<line x1="306.5" y1="231.7" x2="306.5" y2="234.4" stroke="#2a2a2a" stroke-width="0.8"/>
<text x="306.5" y="247.7" text-anchor="middle" font-size="13.6">0.20</text>
<line x1="62.6" y1="231.7" x2="65.3" y2="231.7" stroke="#2a2a2a" stroke-width="0.8"/>
<text x="60.6" y="236.7" text-anchor="end" font-size="13.6">0.0</text>
<line x1="62.6" y1="187.8" x2="65.3" y2="187.8" stroke="#2a2a2a" stroke-width="0.8"/>
<text x="60.6" y="192.8" text-anchor="end" font-size="13.6">0.2</text>
<line x1="62.6" y1="144.0" x2="65.3" y2="144.0" stroke="#2a2a2a" stroke-width="0.8"/>
<text x="60.6" y="149.0" text-anchor="end" font-size="13.6">0.4</text>
<line x1="62.6" y1="100.1" x2="65.3" y2="100.1" stroke="#2a2a2a" stroke-width="0.8"/>
<text x="60.6" y="105.1" text-anchor="end" font-size="13.6">0.6</text>
<line x1="62.6" y1="56.3" x2="65.3" y2="56.3" stroke="#2a2a2a" stroke-width="0.8"/>
<text x="60.6" y="61.3" text-anchor="end" font-size="13.6">0.8</text>
<line x1="62.6" y1="12.4" x2="65.3" y2="12.4" stroke="#2a2a2a" stroke-width="0.8"/>
<text x="60.6" y="17.4" text-anchor="end" font-size="13.6">1.0</text>
<text x="175.3" y="265.6" font-size="16.7">Ω<tspan font-size="11.7" font-style="italic" dy="2.8">p</tspan></text>
<text transform="translate(28.0 122.5) rotate(-90)" text-anchor="middle" font-size="16.7" font-style="italic">g</text>
<text x="0.3" y="22.4" font-family="'Liberation Serif','DejaVu Serif',serif" font-weight="bold" font-size="24.3"><tspan dy="-0.7">(</tspan><tspan font-size="27.3" dy="0.7">a</tspan><tspan dy="-0.7">)</tspan></text>
<rect x="439.6" y="15.5" width="237.7" height="217.0" fill="none" stroke="#2a2a2a" stroke-width="0.8"/>
<line x1="439.6" y1="232.5" x2="439.6" y2="235.2" stroke="#2a2a2a" stroke-width="0.8"/>
<text x="439.6" y="247.8" text-anchor="middle" font-size="13.6">0.00</text>
<line x1="499.0" y1="232.5" x2="499.0" y2="235.2" stroke="#2a2a2a" stroke-width="0.8"/>
<text x="499.0" y="247.8" text-anchor="middle" font-size="13.6">0.05</text>
<line x1="558.5" y1="232.5" x2="558.5" y2="235.2" stroke="#2a2a2a" stroke-width="0.8"/>
<text x="558.5" y="247.8" text-anchor="middle" font-size="13.6">0.10</text>
<line x1="617.9" y1="232.5" x2="617.9" y2="235.2" stroke="#2a2a2a" stroke-width="0.8"/>
<text x="617.9" y="247.8" text-anchor="middle" font-size="13.6">0.15</text>
<line x1="677.3" y1="232.5" x2="677.3" y2="235.2" stroke="#2a2a2a" stroke-width="0.8"/>
<text x="677.3" y="247.8" text-anchor="middle" font-size="13.6">0.20</text>
<line x1="436.9" y1="232.5" x2="439.6" y2="232.5" stroke="#2a2a2a" stroke-width="0.8"/>
<text x="434.9" y="237.5" text-anchor="end" font-size="13.6">0.0</text>
<line x1="436.9" y1="189.1" x2="439.6" y2="189.1" stroke="#2a2a2a" stroke-width="0.8"/>
<text x="434.9" y="194.1" text-anchor="end" font-size="13.6">0.2</text>
<line x1="436.9" y1="145.7" x2="439.6" y2="145.7" stroke="#2a2a2a" stroke-width="0.8"/>
<text x="434.9" y="150.7" text-anchor="end" font-size="13.6">0.4</text>
<line x1="436.9" y1="102.3" x2="439.6" y2="102.3" stroke="#2a2a2a" stroke-width="0.8"/>
<text x="434.9" y="107.3" text-anchor="end" font-size="13.6">0.6</text>
<line x1="436.9" y1="58.9" x2="439.6" y2="58.9" stroke="#2a2a2a" stroke-width="0.8"/>
<text x="434.9" y="63.9" text-anchor="end" font-size="13.6">0.8</text>
<line x1="436.9" y1="15.5" x2="439.6" y2="15.5" stroke="#2a2a2a" stroke-width="0.8"/>
<text x="434.9" y="20.5" text-anchor="end" font-size="13.6">1.0</text>
<text x="547.9" y="265.6" font-size="16.7">Ω<tspan font-size="11.7" font-style="italic" dy="2.8">p</tspan></text>
<text transform="translate(402.3 124.5) rotate(-90)" text-anchor="middle" font-size="16.7" font-style="italic">g</text>
<text x="374.4" y="25.5" font-family="'Liberation Serif','DejaVu Serif',serif" font-weight="bold" font-size="24.3"><tspan dy="-0.7">(</tspan><tspan font-size="27.3" dy="0.7">b</tspan><tspan dy="-0.7">)</tspan></text>
<rect x="64.7" y="288.2" width="237.8" height="217.9" fill="none" stroke="#2a2a2a" stroke-width="0.8"/>
<line x1="64.7" y1="506.1" x2="64.7" y2="508.8" stroke="#2a2a2a" stroke-width="0.8"/>
<text x="64.7" y="521.3" text-anchor="middle" font-size="13.6">0.00</text>
<line x1="124.2" y1="506.1" x2="124.2" y2="508.8" stroke="#2a2a2a" stroke-width="0.8"/>
<text x="124.2" y="521.3" text-anchor="middle" font-size="13.6">0.05</text>
<line x1="183.6" y1="506.1" x2="183.6" y2="508.8" stroke="#2a2a2a" stroke-width="0.8"/>
<text x="183.6" y="521.3" text-anchor="middle" font-size="13.6">0.10</text>
<line x1="243.1" y1="506.1" x2="243.1" y2="508.8" stroke="#2a2a2a" stroke-width="0.8"/>
<text x="243.1" y="521.3" text-anchor="middle" font-size="13.6">0.15</text>
<line x1="302.5" y1="506.1" x2="302.5" y2="508.8" stroke="#2a2a2a" stroke-width="0.8"/>
<text x="302.5" y="521.3" text-anchor="middle" font-size="13.6">0.20</text>
<line x1="62.0" y1="506.1" x2="64.7" y2="506.1" stroke="#2a2a2a" stroke-width="0.8"/>
<text x="60.0" y="511.1" text-anchor="end" font-size="13.6">0.0</text>
<line x1="62.0" y1="462.5" x2="64.7" y2="462.5" stroke="#2a2a2a" stroke-width="0.8"/>
<text x="60.0" y="467.5" text-anchor="end" font-size="13.6">0.2</text>
<line x1="62.0" y1="418.9" x2="64.7" y2="418.9" stroke="#2a2a2a" stroke-width="0.8"/>
<text x="60.0" y="423.9" text-anchor="end" font-size="13.6">0.4</text>
<line x1="62.0" y1="375.4" x2="64.7" y2="375.4" stroke="#2a2a2a" stroke-width="0.8"/>
<text x="60.0" y="380.4" text-anchor="end" font-size="13.6">0.6</text>
<line x1="62.0" y1="331.8" x2="64.7" y2="331.8" stroke="#2a2a2a" stroke-width="0.8"/>
<text x="60.0" y="336.8" text-anchor="end" font-size="13.6">0.8</text>
<line x1="62.0" y1="288.2" x2="64.7" y2="288.2" stroke="#2a2a2a" stroke-width="0.8"/>
<text x="60.0" y="293.2" text-anchor="end" font-size="13.6">1.0</text>
<text x="173.0" y="546.8" font-size="16.7">Ω<tspan font-size="11.7" font-style="italic" dy="2.8">p</tspan></text>
<text transform="translate(27.4 397.6) rotate(-90)" text-anchor="middle" font-size="16.7" font-style="italic">g</text>
<text x="-0.3" y="298.2" font-family="'Liberation Serif','DejaVu Serif',serif" font-weight="bold" font-size="24.3"><tspan dy="-0.7">(</tspan><tspan font-size="27.3" dy="0.7">c</tspan><tspan dy="-0.7">)</tspan></text>
<rect x="439.4" y="288.2" width="237.9" height="217.9" fill="none" stroke="#2a2a2a" stroke-width="0.8"/>
<line x1="439.4" y1="506.1" x2="439.4" y2="508.8" stroke="#2a2a2a" stroke-width="0.8"/>
<text x="439.4" y="521.3" text-anchor="middle" font-size="13.6">0.00</text>
<line x1="498.9" y1="506.1" x2="498.9" y2="508.8" stroke="#2a2a2a" stroke-width="0.8"/>
<text x="498.9" y="521.3" text-anchor="middle" font-size="13.6">0.05</text>
<line x1="558.3" y1="506.1" x2="558.3" y2="508.8" stroke="#2a2a2a" stroke-width="0.8"/>
<text x="558.3" y="521.3" text-anchor="middle" font-size="13.6">0.10</text>
<line x1="617.8" y1="506.1" x2="617.8" y2="508.8" stroke="#2a2a2a" stroke-width="0.8"/>
<text x="617.8" y="521.3" text-anchor="middle" font-size="13.6">0.15</text>
<line x1="677.3" y1="506.1" x2="677.3" y2="508.8" stroke="#2a2a2a" stroke-width="0.8"/>
<text x="677.3" y="521.3" text-anchor="middle" font-size="13.6">0.20</text>
<line x1="436.7" y1="506.1" x2="439.4" y2="506.1" stroke="#2a2a2a" stroke-width="0.8"/>
<text x="434.7" y="511.1" text-anchor="end" font-size="13.6">0.0</text>
<line x1="436.7" y1="462.5" x2="439.4" y2="462.5" stroke="#2a2a2a" stroke-width="0.8"/>
<text x="434.7" y="467.5" text-anchor="end" font-size="13.6">0.2</text>
<line x1="436.7" y1="418.9" x2="439.4" y2="418.9" stroke="#2a2a2a" stroke-width="0.8"/>
<text x="434.7" y="423.9" text-anchor="end" font-size="13.6">0.4</text>
<line x1="436.7" y1="375.4" x2="439.4" y2="375.4" stroke="#2a2a2a" stroke-width="0.8"/>
<text x="434.7" y="380.4" text-anchor="end" font-size="13.6">0.6</text>
<line x1="436.7" y1="331.8" x2="439.4" y2="331.8" stroke="#2a2a2a" stroke-width="0.8"/>
<text x="434.7" y="336.8" text-anchor="end" font-size="13.6">0.8</text>
<line x1="436.7" y1="288.2" x2="439.4" y2="288.2" stroke="#2a2a2a" stroke-width="0.8"/>
<text x="434.7" y="293.2" text-anchor="end" font-size="13.6">1.0</text>
<text x="547.7" y="546.8" font-size="16.7">Ω<tspan font-size="11.7" font-style="italic" dy="2.8">p</tspan></text>
<text transform="translate(402.1 397.6) rotate(-90)" text-anchor="middle" font-size="16.7" font-style="italic">g</text>
<text x="374.2" y="298.2" font-family="'Liberation Serif','DejaVu Serif',serif" font-weight="bold" font-size="24.3"><tspan dy="-0.7">(</tspan><tspan font-size="27.3" dy="0.7">d</tspan><tspan dy="-0.7">)</tspan></text>
<polygon points="321.3,72.2 331.1,67.0 341.0,72.2" fill="#a52a2a"/>
<polygon points="321.3,171.8 331.1,177.0 341.0,171.8" fill="#3b4cc0"/>
<rect x="321.3" y="155.00" width="19.7" height="17.00" fill="#3c4ec2"/>
<rect x="321.3" y="138.40" width="19.7" height="17.00" fill="#4b64d5"/>
<rect x="321.3" y="121.80" width="19.7" height="17.00" fill="#7b9ff9"/>
<rect x="321.3" y="105.20" width="19.7" height="17.00" fill="#c0d4f5"/>
<rect x="321.3" y="88.60" width="19.7" height="17.00" fill="#f2cbb7"/>
<rect x="321.3" y="72.00" width="19.7" height="17.00" fill="#e36c55"/>
<polygon points="321.3,72.2 331.1,67.0 341.0,72.2 341.0,171.8 331.1,177.0 321.3,171.8" fill="none" stroke="#2a2a2a" stroke-width="0.8" stroke-linejoin="miter"/>
<line x1="341.0" y1="171.8" x2="343.6" y2="171.8" stroke="#2a2a2a" stroke-width="0.8"/>
<text x="345.9" y="176.8" font-size="13.6">0.00</text>
<line x1="341.0" y1="155.2" x2="343.6" y2="155.2" stroke="#2a2a2a" stroke-width="0.8"/>
<text x="345.9" y="160.2" font-size="13.6">0.01</text>
<line x1="341.0" y1="138.6" x2="343.6" y2="138.6" stroke="#2a2a2a" stroke-width="0.8"/>
<text x="345.9" y="143.6" font-size="13.6">0.10</text>
<line x1="341.0" y1="122.0" x2="343.6" y2="122.0" stroke="#2a2a2a" stroke-width="0.8"/>
<text x="345.9" y="127.0" font-size="13.6">0.30</text>
<line x1="341.0" y1="105.4" x2="343.6" y2="105.4" stroke="#2a2a2a" stroke-width="0.8"/>
<text x="345.9" y="110.4" font-size="13.6">0.50</text>
<line x1="341.0" y1="88.8" x2="343.6" y2="88.8" stroke="#2a2a2a" stroke-width="0.8"/>
<text x="345.9" y="93.8" font-size="13.6">0.70</text>
<line x1="341.0" y1="72.2" x2="343.6" y2="72.2" stroke="#2a2a2a" stroke-width="0.8"/>
<text x="345.9" y="77.2" font-size="13.6">1.00</text>
<polygon points="692.2,74.5 702.4,69.5 712.5,74.5" fill="#a52a2a"/>
<polygon points="692.2,173.7 702.4,178.7 712.5,173.7" fill="#3b4cc0"/>
<rect x="692.2" y="156.97" width="20.3" height="16.93" fill="#5470de"/>
<rect x="692.2" y="140.43" width="20.3" height="16.93" fill="#8db0fe"/>
<rect x="692.2" y="123.90" width="20.3" height="16.93" fill="#c5d6f2"/>
<rect x="692.2" y="107.37" width="20.3" height="16.93" fill="#efcebd"/>
<rect x="692.2" y="90.83" width="20.3" height="16.93" fill="#f4987a"/>
<rect x="692.2" y="74.30" width="20.3" height="16.93" fill="#d1493f"/>
<polygon points="692.2,74.5 702.4,69.5 712.5,74.5 712.5,173.7 702.4,178.7 692.2,173.7" fill="none" stroke="#2a2a2a" stroke-width="0.8" stroke-linejoin="miter"/>
<line x1="712.5" y1="173.7" x2="715.1" y2="173.7" stroke="#2a2a2a" stroke-width="0.8"/>
<text x="717.4" y="178.7" font-size="13.6">300</text>
<line x1="712.5" y1="157.2" x2="715.1" y2="157.2" stroke="#2a2a2a" stroke-width="0.8"/>
<text x="717.4" y="162.2" font-size="13.6">600</text>
<line x1="712.5" y1="140.6" x2="715.1" y2="140.6" stroke="#2a2a2a" stroke-width="0.8"/>
<text x="717.4" y="145.6" font-size="13.6">900</text>
<line x1="712.5" y1="124.1" x2="715.1" y2="124.1" stroke="#2a2a2a" stroke-width="0.8"/>
<text x="717.4" y="129.1" font-size="13.6">1200</text>
<line x1="712.5" y1="107.6" x2="715.1" y2="107.6" stroke="#2a2a2a" stroke-width="0.8"/>
<text x="717.4" y="112.6" font-size="13.6">1500</text>
<line x1="712.5" y1="91.0" x2="715.1" y2="91.0" stroke="#2a2a2a" stroke-width="0.8"/>
<text x="717.4" y="96.0" font-size="13.6">1800</text>
<line x1="712.5" y1="74.5" x2="715.1" y2="74.5" stroke="#2a2a2a" stroke-width="0.8"/>
<text x="717.4" y="79.5" font-size="13.6">2100</text>
<polygon points="317.2,348.3 327.4,343.1 337.7,348.3" fill="#a52a2a"/>
<polygon points="317.2,447.1 327.4,452.3 337.7,447.1" fill="#3b4cc0"/>
<rect x="317.2" y="430.43" width="20.5" height="16.87" fill="#5470de"/>
<rect x="317.2" y="413.97" width="20.5" height="16.87" fill="#8db0fe"/>
<rect x="317.2" y="397.50" width="20.5" height="16.87" fill="#c5d6f2"/>
<rect x="317.2" y="381.03" width="20.5" height="16.87" fill="#efcebd"/>
<rect x="317.2" y="364.57" width="20.5" height="16.87" fill="#f4987a"/>
<rect x="317.2" y="348.10" width="20.5" height="16.87" fill="#d1493f"/>
<polygon points="317.2,348.3 327.4,343.1 337.7,348.3 337.7,447.1 327.4,452.3 317.2,447.1" fill="none" stroke="#2a2a2a" stroke-width="0.8" stroke-linejoin="miter"/>
<line x1="337.7" y1="447.1" x2="340.3" y2="447.1" stroke="#2a2a2a" stroke-width="0.8"/>
<text x="342.6" y="452.1" font-size="13.6">200</text>
<line x1="337.7" y1="430.6" x2="340.3" y2="430.6" stroke="#2a2a2a" stroke-width="0.8"/>
<text x="342.6" y="435.6" font-size="13.6">400</text>
<line x1="337.7" y1="414.2" x2="340.3" y2="414.2" stroke="#2a2a2a" stroke-width="0.8"/>
<text x="342.6" y="419.2" font-size="13.6">600</text>
<line x1="337.7" y1="397.7" x2="340.3" y2="397.7" stroke="#2a2a2a" stroke-width="0.8"/>
<text x="342.6" y="402.7" font-size="13.6">800</text>
<line x1="337.7" y1="381.2" x2="340.3" y2="381.2" stroke="#2a2a2a" stroke-width="0.8"/>
<text x="342.6" y="386.2" font-size="13.6">1000</text>
<line x1="337.7" y1="364.8" x2="340.3" y2="364.8" stroke="#2a2a2a" stroke-width="0.8"/>
<text x="342.6" y="369.8" font-size="13.6">1200</text>
<line x1="337.7" y1="348.3" x2="340.3" y2="348.3" stroke="#2a2a2a" stroke-width="0.8"/>
<text x="342.6" y="353.3" font-size="13.6">1400</text>
<polygon points="692.2,348.3 702.4,343.3 712.5,348.3" fill="#a52a2a"/>
<polygon points="692.2,447.3 702.4,452.3 712.5,447.3" fill="#3b4cc0"/>
<rect x="692.2" y="430.60" width="20.3" height="16.90" fill="#5470de"/>
<rect x="692.2" y="414.10" width="20.3" height="16.90" fill="#8db0fe"/>
<rect x="692.2" y="397.60" width="20.3" height="16.90" fill="#c5d6f2"/>
<rect x="692.2" y="381.10" width="20.3" height="16.90" fill="#efcebd"/>
<rect x="692.2" y="364.60" width="20.3" height="16.90" fill="#f4987a"/>
<rect x="692.2" y="348.10" width="20.3" height="16.90" fill="#d1493f"/>
<polygon points="692.2,348.3 702.4,343.3 712.5,348.3 712.5,447.3 702.4,452.3 692.2,447.3" fill="none" stroke="#2a2a2a" stroke-width="0.8" stroke-linejoin="miter"/>
<line x1="712.5" y1="447.3" x2="715.1" y2="447.3" stroke="#2a2a2a" stroke-width="0.8"/>
<text x="717.4" y="452.3" font-size="13.6">200</text>
<line x1="712.5" y1="430.8" x2="715.1" y2="430.8" stroke="#2a2a2a" stroke-width="0.8"/>
<text x="717.4" y="435.8" font-size="13.6">400</text>
<line x1="712.5" y1="414.3" x2="715.1" y2="414.3" stroke="#2a2a2a" stroke-width="0.8"/>
<text x="717.4" y="419.3" font-size="13.6">600</text>
<line x1="712.5" y1="397.8" x2="715.1" y2="397.8" stroke="#2a2a2a" stroke-width="0.8"/>
<text x="717.4" y="402.8" font-size="13.6">800</text>
<line x1="712.5" y1="381.3" x2="715.1" y2="381.3" stroke="#2a2a2a" stroke-width="0.8"/>
<text x="717.4" y="386.3" font-size="13.6">1000</text>
<line x1="712.5" y1="364.8" x2="715.1" y2="364.8" stroke="#2a2a2a" stroke-width="0.8"/>
<text x="717.4" y="369.8" font-size="13.6">1200</text>
<line x1="712.5" y1="348.3" x2="715.1" y2="348.3" stroke="#2a2a2a" stroke-width="0.8"/>
<text x="717.4" y="353.3" font-size="13.6">1400</text>
</g>
</svg>
</body></html>
